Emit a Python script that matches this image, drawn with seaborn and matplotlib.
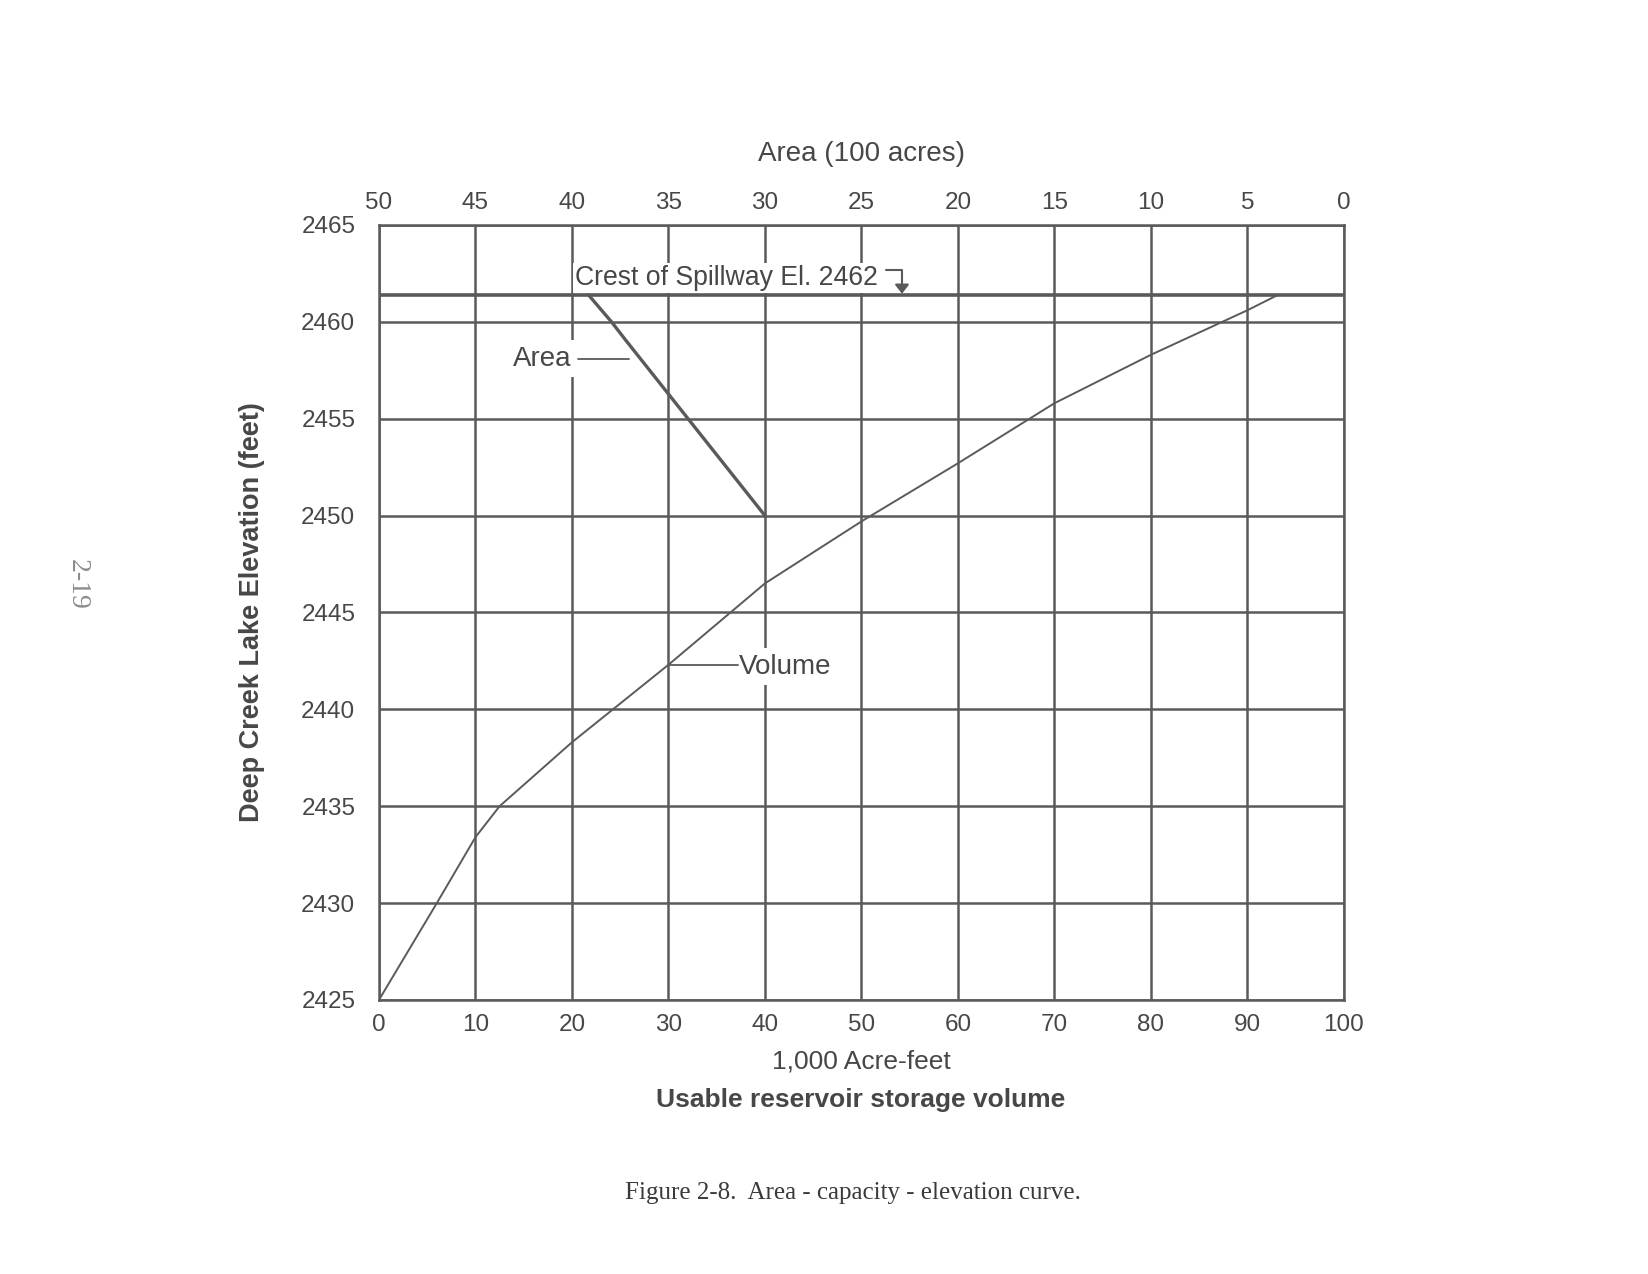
import matplotlib
matplotlib.use("Agg")
import matplotlib.pyplot as plt
import seaborn as sns
import pandas as pd

# ---- data ----
volume_kaf = [0, 6, 10, 12.5, 20, 30, 40, 50, 60, 70, 80, 90, 93.2]
volume_elev = [2425, 2430, 2433.4, 2435, 2438.3, 2442.3, 2446.5, 2449.7,
               2452.7, 2455.8, 2458.3, 2460.6, 2461.4]
area_100ac = [30.0, 37.25, 37.95, 39.15]
area_elev = [2450, 2459.1, 2460, 2461.4]
spillway_elev = 2461.4
vol_ticks = [0, 10, 20, 30, 40, 50, 60, 70, 80, 90, 100]
area_ticks = [50, 45, 40, 35, 30, 25, 20, 15, 10, 5, 0]
elev_ticks = [2425, 2430, 2435, 2440, 2445, 2450, 2455, 2460, 2465]

sns.set_theme(style="white")
plt.rcParams["font.family"] = ["Liberation Sans", "DejaVu Sans"]
INK = "#474747"
GRID = "#5a5a5a"

df_vol = pd.DataFrame({"volume": volume_kaf, "elev": volume_elev})
df_area = pd.DataFrame({"area": area_100ac, "elev": area_elev})

fig = plt.figure(figsize=(16.49, 12.74), dpi=100)
ax = fig.add_axes([0.2298, 0.2151, 0.5852, 0.6083])

sns.lineplot(data=df_vol, x="volume", y="elev", ax=ax, color=GRID,
             linewidth=1.4, sort=False, estimator=None, zorder=3)
ax.set_xlim(0, 100)
ax.set_ylim(2425, 2465)
ax.set_xticks(vol_ticks)
ax.set_yticks(elev_ticks)
ax.grid(True, color=GRID, linewidth=1.8)
ax.set_axisbelow(True)
for s in ax.spines.values():
    s.set_color(GRID)
    s.set_linewidth(1.8)
ax.tick_params(axis="x", length=0, pad=10, labelsize=17.5, labelcolor=INK)
ax.tick_params(axis="y", length=0, pad=17, labelsize=17.5, labelcolor=INK)
ax.set_xlabel("1,000 Acre-feet", fontsize=19, color=INK, labelpad=10)
ax.set_ylabel("Deep Creek Lake Elevation (feet)", fontsize=19.5,
              fontweight="bold", color=INK, labelpad=26)

ax.axhline(spillway_elev, color=GRID, linewidth=2.6, zorder=5.5)

ax2 = ax.twiny()
sns.lineplot(data=df_area, x="area", y="elev", ax=ax2, color=GRID,
             linewidth=2.4, sort=False, estimator=None, zorder=3)
ax2.set_xlim(50, 0)
ax2.set_ylim(2425, 2465)
ax2.set_xticks(area_ticks)
ax2.set_xticklabels([str(t) for t in area_ticks])
ax2.grid(False)
for s in ax2.spines.values():
    s.set_visible(False)
ax2.tick_params(axis="x", length=0, pad=8, labelsize=17.5, labelcolor=INK)
ax2.set_xlabel("Area (100 acres)", fontsize=20, color=INK, labelpad=22)

# ---- annotations ----
bbox_crest = dict(boxstyle="square,pad=0.08", fc="white", ec="none")
bbox_lbl = dict(boxstyle="square,pad=0.2", fc="white", ec="none")
ax.text(20.3, 2462.25, "Crest of Spillway El. 2462", fontsize=19.2,
        color=INK, ha="left", va="center", bbox=bbox_crest, zorder=5)
ax.annotate("", xy=(54.2, 2461.45), xytext=(52.5, 2462.7),
            arrowprops=dict(arrowstyle="-|>,head_length=0.45,head_width=0.35",
                            connectionstyle="angle,angleA=0,angleB=90,rad=0",
                            color=GRID, lw=1.5, shrinkA=0, shrinkB=0),
            zorder=6)

ax.text(19.9, 2458.1, "Area", fontsize=20, color=INK, ha="right",
        va="center", bbox=bbox_lbl, zorder=5)
ax.plot([20.6, 25.9], [2458.1, 2458.1], color=GRID, lw=1.3, zorder=5.2)

ax.text(37.3, 2442.2, "Volume", fontsize=20, color=INK, ha="left",
        va="center", bbox=bbox_lbl, zorder=5)
ax.plot([30.0, 37.2], [2442.3, 2442.3], color=GRID, lw=1.3, zorder=5.2)

fig.text(0.522, 1 - 1100 / 1274, "Usable reservoir storage volume",
         fontsize=19, fontweight="bold", color=INK, ha="center", va="center")
fig.text(0.517, 1 - 1193 / 1274, "Figure 2-8.  Area - capacity - elevation curve.",
         fontsize=18, color="#3a3a3a", ha="center", va="center",
         family=["Liberation Serif", "DejaVu Serif"])
fig.text(77 / 1649, 1 - 584 / 1274, "2-19", fontsize=20, color="#8c8c8c",
         rotation=-90, ha="center", va="center",
         family=["Liberation Serif", "DejaVu Serif"])

fig.savefig("out.png", dpi=100, facecolor="white")
